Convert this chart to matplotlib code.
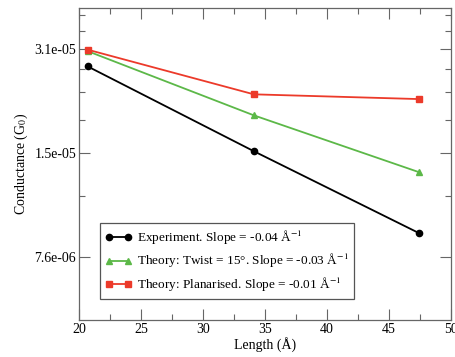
import numpy as np
import matplotlib
matplotlib.use('Agg')
import matplotlib.pyplot as plt
from matplotlib.ticker import FixedLocator, NullFormatter

plt.rcParams['font.family'] = ['Liberation Serif', 'DejaVu Serif']
plt.rcParams['mathtext.fontset'] = 'stix'

length = [20.7, 34.1, 47.4]
experiment = [2.71e-05, 1.54e-05, 8.93e-06]
twist = [3.0e-05, 1.956e-05, 1.34e-05]
planar = [3.03e-05, 2.25e-05, 2.18e-05]

labels = ['Experiment. Slope = -0.04 Å$^{-1}$',
          'Theory: Twist = 15°. Slope = -0.03 Å$^{-1}$',
          'Theory: Planarised. Slope = -0.01 Å$^{-1}$']

y_major = [7.625e-06, 1.525e-05, 3.05e-05]
y_major_labels = ['7.6e-06', '1.5e-05', '3.1e-05']
y_minor = [1.145e-05, 1.9e-05, 2.29e-05, 2.67e-05, 3.43e-05, 3.82e-05]

fig = plt.figure(figsize=(4.56, 3.57), dpi=100)
ax = fig.add_axes([79/456, 1 - 320/357, 372/456, 312/357])

ax.plot(length, experiment, color='black', marker='o', ms=4.5, lw=1.3, label=labels[0])
ax.plot(length, twist, color='#5cb848', marker='^', ms=4.5, lw=1.3, label=labels[1])
ax.plot(length, planar, color='#ec3a2a', marker='s', ms=4, lw=1.3, label=labels[2])

ax.set_yscale('log')
ax.set_xlim(20, 50)
ax.set_ylim(5e-06, 4e-05)

ax.set_xticks(np.arange(20, 51, 5))
ax.set_xticks(np.arange(22.5, 50, 5), minor=True)
ax.yaxis.set_major_locator(FixedLocator(y_major))
ax.yaxis.set_minor_locator(FixedLocator(y_minor))
ax.set_yticklabels(y_major_labels)
ax.yaxis.set_minor_formatter(NullFormatter())

ax.tick_params(which='both', direction='in', top=True, right=True,
               color='#666666', labelsize=10, pad=2)
ax.tick_params(which='major', length=8, width=0.8)
ax.tick_params(which='minor', length=4, width=0.8)
for s in ax.spines.values():
    s.set_color('#666666')
    s.set_linewidth(0.9)

ax.set_xlabel('Length (Å)', fontsize=10, labelpad=1)
ax.set_ylabel('Conductance (G$_0$)', fontsize=10, labelpad=3)

leg = ax.legend(loc='lower left', bbox_to_anchor=(0.057, 0.068), fontsize=9.5,
                numpoints=2, handlelength=2.0, handletextpad=0.4,
                borderpad=0.4, labelspacing=0.4, fancybox=False,
                framealpha=1, borderaxespad=0)
leg.get_frame().set_edgecolor('#555555')
leg.get_frame().set_linewidth(0.9)

fig.savefig('out.png', dpi=100)
